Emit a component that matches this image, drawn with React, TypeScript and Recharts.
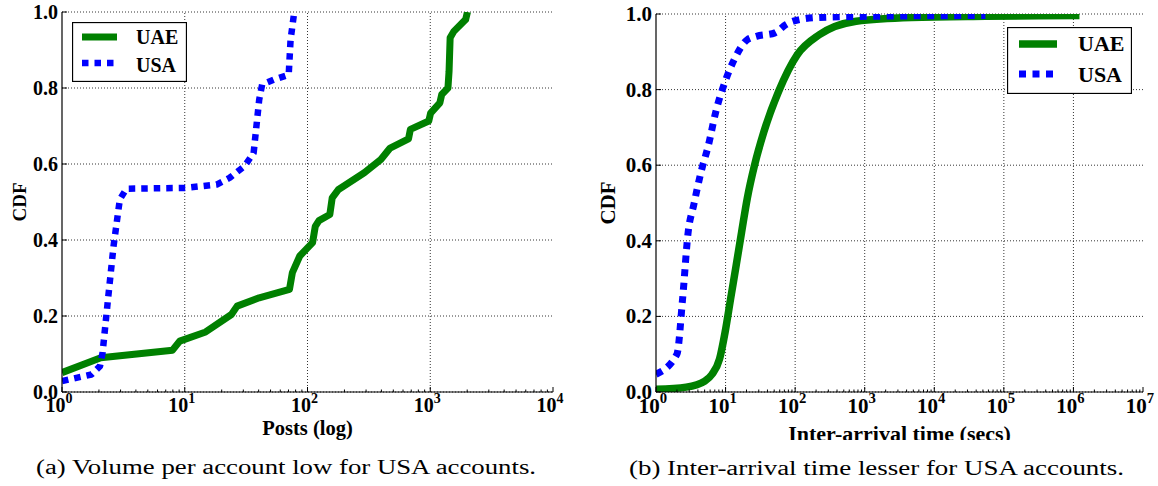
import React from "react";
import { CartesianGrid, Label, Legend, Line, LineChart, ReferenceLine, XAxis, YAxis } from "recharts";

const SERIF = "Liberation Serif, DejaVu Serif, serif";

// (a) posts per account, CDF over a log x axis
const postsUaeX = [1, 2.07, 7.95, 9.1, 14.8, 24, 26.7, 40.4, 71.3, 75.3, 86.5, 110, 115.7, 124, 152, 159, 179, 290, 396, 471, 665, 689, 973, 1007, 1198, 1240, 1394, 1423, 1452, 1556, 1942, 2010];
const postsUaeY = [0.051, 0.09, 0.11, 0.134, 0.158, 0.204, 0.226, 0.248, 0.27, 0.314, 0.358, 0.393, 0.436, 0.451, 0.467, 0.511, 0.533, 0.577, 0.612, 0.642, 0.666, 0.691, 0.713, 0.734, 0.761, 0.783, 0.8, 0.844, 0.932, 0.949, 0.98, 1.0];
const postsUsaX = [1, 1.74, 2.04, 2.14, 2.37, 2.63, 2.96, 3.35, 10.1, 18.2, 23.3, 30.6, 36.4, 40.4, 42.7, 53.3, 70.3, 72.8, 78];
const postsUsaY = [0.029, 0.046, 0.068, 0.103, 0.244, 0.384, 0.507, 0.535, 0.537, 0.546, 0.564, 0.594, 0.629, 0.769, 0.809, 0.822, 0.835, 0.927, 1.0];

// (b) inter-arrival time in seconds
const iatUaeX = [1, 2.72, 5.03, 6.4, 8.19, 9.84, 11.8, 14.2, 17, 20.5, 26.1, 35.5, 57.8, 107, 222, 753, 4710, 54300, 1220000];
const iatUaeY = [0.007, 0.013, 0.029, 0.047, 0.087, 0.158, 0.246, 0.335, 0.423, 0.512, 0.6, 0.688, 0.795, 0.892, 0.945, 0.981, 0.991, 0.994, 0.996];
const iatUsaX = [1, 2.0, 2.41, 2.9, 3.48, 4.44, 5.67, 7.25, 9.84, 13.3, 20.5, 27.8, 51.2, 73.9, 94, 222, 1387, 54300];
const iatUsaY = [0.047, 0.1, 0.246, 0.423, 0.494, 0.582, 0.653, 0.742, 0.821, 0.879, 0.932, 0.941, 0.95, 0.972, 0.981, 0.991, 0.994, 0.996];

const cdfTicks = [0, 0.2, 0.4, 0.6, 0.8, 1.0];
const postsMajor = [1, 10, 100, 1000, 10000];
const iatMajor = [1, 10, 100, 1e3, 1e4, 1e5, 1e6, 1e7];

const captionA = "(a) Volume per account low for USA accounts.";
const captionB = "(b) Inter-arrival time lesser for USA accounts.";

const withMinor = (majors: number[]) => {
  const out: number[] = [];
  majors.forEach((m, i) => {
    out.push(m);
    if (i < majors.length - 1) for (let k = 2; k <= 9; k++) out.push(m * k);
  });
  return out;
};

const toPoints = (xs: number[], ys: number[]) => xs.map((x, i) => ({ x, y: ys[i] }));

type Series = { name: string; data: { x: number; y: number }[]; color: string; width: number; dash?: string; curve: "linear" | "monotone" };

const isMajor = (v: number) => {
  const e = Math.log10(v);
  return Math.abs(e - Math.round(e)) < 1e-9;
};

const bold = (fs: number) => ({ fontFamily: SERIF, fontWeight: 700, fontSize: fs });

function BottomTick(props: any) {
  const { x, y, payload, fs } = props;
  const v = payload.value;
  const major = isMajor(v);
  return (
    <g>
      <line x1={x} x2={x} y1={y} y2={y - (major ? 5 : 2.5)} stroke="#000" strokeWidth={1} />
      {major && (
        <text x={x - 3} y={y + fs} textAnchor="middle" style={bold(fs)} fill="#000">
          10
          <tspan dy={-fs * 0.47} style={{ fontSize: fs * 0.7 }}>
            {Math.round(Math.log10(v))}
          </tspan>
        </text>
      )}
    </g>
  );
}

function TopTick(props: any) {
  const { x, y, payload } = props;
  const major = isMajor(payload.value);
  return <line x1={x} x2={x} y1={y} y2={y + (major ? 5 : 2.5)} stroke="#000" strokeWidth={1} />;
}

function LeftTick(props: any) {
  const { x, y, payload, fs } = props;
  return (
    <g>
      <line x1={x} x2={x + 5} y1={y} y2={y} stroke="#000" strokeWidth={1} />
      <text x={x - 4} y={y + fs * 0.33} textAnchor="end" style={bold(fs)} fill="#000">
        {Number(payload.value).toFixed(1)}
      </text>
    </g>
  );
}

function RightTick(props: any) {
  const { x, y } = props;
  return <line x1={x} x2={x - 5} y1={y} y2={y} stroke="#000" strokeWidth={1} />;
}

type LegendCfg = { left: number; top: number; w: number; h: number; x0: number; x1: number; tx: number; rows: { ly: number; ty: number }[]; fs: number };

const makeLegend = (cfg: LegendCfg, series: Series[]) => () => (
  <svg width={cfg.w} height={cfg.h} style={{ display: "block" }}>
    <rect x={0.5} y={0.5} width={cfg.w - 1} height={cfg.h - 1} fill="#fff" stroke="#000" strokeWidth={1.3} />
    {series.map((s, i) => (
      <g key={s.name}>
        <line x1={cfg.x0} x2={cfg.x1} y1={cfg.rows[i].ly} y2={cfg.rows[i].ly} stroke={s.color} strokeWidth={s.width} strokeDasharray={s.dash} />
        <text x={cfg.tx} y={cfg.rows[i].ty} style={bold(cfg.fs)} fill="#000">
          {s.name}
        </text>
      </g>
    ))}
  </svg>
);

type PanelProps = {
  left: number;
  width: number;
  margin: { top: number; right: number; left: number; bottom: number };
  yAxisWidth: number;
  majors: number[];
  fs: number;
  series: Series[];
  xTitle: string;
  xTitleFs: number;
  xTitleDy: number;
  cdfX: number;
  cdfFs: number;
  legend: LegendCfg;
};

function CdfPanel(p: PanelProps) {
  const ticks = withMinor(p.majors);
  const domain = [p.majors[0], p.majors[p.majors.length - 1]];
  return (
    <div style={{ position: "absolute", left: p.left, top: 0, width: p.width, height: 440, overflow: "hidden" }}>
      <LineChart width={p.width} height={440} margin={p.margin}>
        <CartesianGrid vertical={false} stroke="#000" strokeDasharray="1 2" strokeWidth={0.8} />
        {p.majors.slice(1, -1).map((m) => (
          <ReferenceLine key={m} x={m} stroke="#000" strokeDasharray="1 2" strokeWidth={0.8} />
        ))}
        <XAxis
          dataKey="x"
          type="number"
          scale="log"
          domain={domain}
          allowDataOverflow
          ticks={ticks}
          interval={0}
          height={48}
          tickSize={0}
          tickMargin={0}
          tickLine={false}
          axisLine={{ stroke: "#000", strokeWidth: 1.2 }}
          tick={(t: any) => <BottomTick {...t} fs={p.fs} />}
        >
          <Label
            content={(lp: any) => {
              const vb = lp.viewBox;
              return (
                <text x={vb.x + vb.width / 2} y={vb.y + p.xTitleDy} textAnchor="middle" style={bold(p.xTitleFs)} fill="#000">
                  {p.xTitle}
                </text>
              );
            }}
          />
        </XAxis>
        <XAxis
          xAxisId="top"
          orientation="top"
          type="number"
          scale="log"
          domain={domain}
          allowDataOverflow
          ticks={ticks}
          interval={0}
          height={0}
          tickSize={0}
          tickMargin={0}
          tickLine={false}
          axisLine={{ stroke: "#000", strokeWidth: 1.2 }}
          tick={(t: any) => <TopTick {...t} />}
        />
        <YAxis
          type="number"
          domain={[0, 1]}
          allowDataOverflow
          ticks={cdfTicks}
          interval={0}
          width={p.yAxisWidth}
          tickSize={0}
          tickMargin={0}
          tickLine={false}
          axisLine={{ stroke: "#000", strokeWidth: 1.2 }}
          tick={(t: any) => <LeftTick {...t} fs={p.fs} />}
        >
          <Label
            content={(lp: any) => {
              const vb = lp.viewBox;
              const cy = vb.y + vb.height / 2;
              return (
                <text
                  transform={`translate(${vb.x + p.cdfX}, ${cy}) rotate(-90)`}
                  textAnchor="middle"
                  dominantBaseline="central"
                  style={bold(p.cdfFs)}
                  fill="#000"
                >
                  CDF
                </text>
              );
            }}
          />
        </YAxis>
        <YAxis
          yAxisId="right"
          orientation="right"
          type="number"
          domain={[0, 1]}
          allowDataOverflow
          ticks={cdfTicks}
          interval={0}
          width={0}
          tickSize={0}
          tickMargin={0}
          tickLine={false}
          axisLine={{ stroke: "#000", strokeWidth: 1.2 }}
          tick={(t: any) => <RightTick {...t} />}
        />
        {p.series.map((s) => (
          <Line
            key={s.name}
            name={s.name}
            data={s.data}
            dataKey="y"
            type={s.curve}
            stroke={s.color}
            strokeWidth={s.width}
            strokeDasharray={s.dash}
            strokeLinejoin="round"
            dot={false}
            activeDot={false}
            isAnimationActive={false}
          />
        ))}
        <Legend
          layout="horizontal"
          verticalAlign="middle"
          align="center"
          wrapperStyle={{ left: p.legend.left, top: p.legend.top, width: p.legend.w, height: p.legend.h, margin: 0, padding: 0 }}
          content={makeLegend(p.legend, p.series)}
        />
      </LineChart>
    </div>
  );
}

const postsSeries: Series[] = [
  { name: "UAE", data: toPoints(postsUaeX, postsUaeY), color: "#008000", width: 7, curve: "linear" },
  { name: "USA", data: toPoints(postsUsaX, postsUsaY), color: "#0000ff", width: 6.5, dash: "6.5 6", curve: "linear" },
];

const iatSeries: Series[] = [
  { name: "UAE", data: toPoints(iatUaeX, iatUaeY), color: "#008000", width: 7.5, curve: "monotone" },
  { name: "USA", data: toPoints(iatUsaX, iatUsaY), color: "#0000ff", width: 7, dash: "7 6.5", curve: "monotone" },
];

export default function App() {
  return (
    <div style={{ position: "absolute", left: 0, top: 0, width: 1158, height: 486, background: "#fff", overflow: "hidden" }}>
      <CdfPanel
        left={0}
        width={580}
        margin={{ top: 12, right: 27, left: 0, bottom: 0 }}
        yAxisWidth={62}
        majors={postsMajor}
        fs={20}
        series={postsSeries}
        xTitle="Posts (log)"
        xTitleFs={20.5}
        xTitleDy={43}
        cdfX={19}
        cdfFs={19}
        legend={{ left: 72, top: 22, w: 115, h: 60, x0: 10, x1: 45, tx: 64, rows: [{ ly: 15, ty: 22 }, { ly: 41, ty: 49.5 }], fs: 20 }}
      />
      <CdfPanel
        left={580}
        width={578}
        margin={{ top: 14, right: 15, left: 0, bottom: 0 }}
        yAxisWidth={76}
        majors={iatMajor}
        fs={21}
        series={iatSeries}
        xTitle="Inter-arrival time (secs)"
        xTitleFs={22}
        xTitleDy={49}
        cdfX={28}
        cdfFs={21}
        legend={{ left: 427, top: 27, w: 125, h: 67, x0: 12, x1: 50, tx: 71, rows: [{ ly: 17, ty: 24 }, { ly: 47, ty: 55 }], fs: 22 }}
      />
      <svg width={1158} height={486} style={{ position: "absolute", left: 0, top: 0, pointerEvents: "none" }}>
        <text x={286} y={474} textAnchor="middle" style={{ fontFamily: SERIF, fontSize: 20 }} textLength={500} lengthAdjust="spacingAndGlyphs" fill="#000">
          {captionA}
        </text>
        <text x={876.5} y={475} textAnchor="middle" style={{ fontFamily: SERIF, fontSize: 20 }} textLength={495} lengthAdjust="spacingAndGlyphs" fill="#000">
          {captionB}
        </text>
      </svg>
    </div>
  );
}
